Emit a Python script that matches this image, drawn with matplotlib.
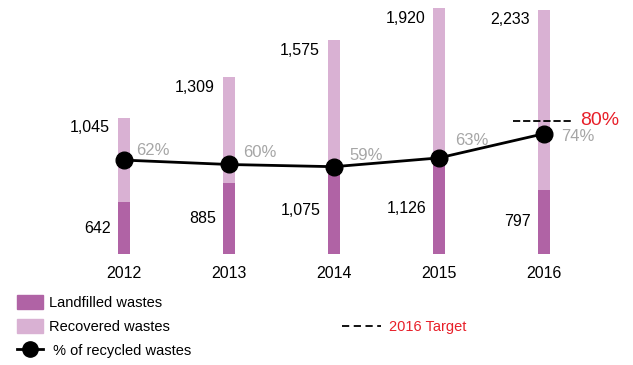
import matplotlib
matplotlib.use("Agg")
import matplotlib.pyplot as plt
from matplotlib.patches import Patch
from matplotlib.lines import Line2D

plt.rcParams['font.family'] = ['Liberation Sans', 'DejaVu Sans']

years = ["2012", "2013", "2014", "2015", "2016"]
landfilled = [642, 885, 1075, 1126, 797]
recovered = [1045, 1309, 1575, 1920, 2233]
recycled_pct = [62, 60, 59, 63, 74]
target_pct = 80

dark = "#b063a5"
light = "#d9b1d3"
red = "#e8202a"
gray = "#a6a6a6"

fig = plt.figure(figsize=(6.33, 3.65), dpi=100)
ax = fig.add_axes([0, 111/365, 1, 254/365])
ax2 = ax.twinx()

x = list(range(len(years)))
w = 0.114
ax.bar(x, landfilled, width=w, color=dark, zorder=1)
ax.bar(x, recovered, width=w, bottom=landfilled, color=light, zorder=1)

for i in x:
    top = landfilled[i] + recovered[i]
    ax.annotate(f"{recovered[i]:,}", (i - w/2, top), xytext=(-8, -10),
                textcoords='offset pixels', ha='right', va='center', fontsize=11.5)
    ax.annotate(f"{landfilled[i]:,}", (i - w/2, landfilled[i]/2), xytext=(-7, 0),
                textcoords='offset pixels', ha='right', va='center', fontsize=11.5)

ax.set_xlim(-124/105, (633-124)/105)
ax.set_ylim(0, 3150)
ax.set_xticks(x)
ax.set_xticklabels(years, fontsize=11.5)
ax.tick_params(axis='x', length=0, pad=9)
ax.set_yticks([])
for a in (ax, ax2):
    for s in a.spines.values():
        s.set_visible(False)
    a.patch.set_visible(False)

ax2.plot(x, recycled_pct, color='black', lw=2, marker='o', markersize=12, zorder=3)
ax2.set_ylim(19.3, 134.8)
ax2.set_yticks([])
pct_offsets = [(12, 10), (14, 12), (15, 11), (16, 17), (17, -3)]
for i in x:
    ax2.annotate(f"{recycled_pct[i]}%", (i, recycled_pct[i]), xytext=pct_offsets[i],
                 textcoords='offset pixels', ha='left', va='center',
                 fontsize=12, color=gray)

last = len(x) - 1
ax2.hlines(target_pct, last - 0.3, last + 0.28, colors='black', lw=1.3,
           linestyles=(0, (4, 1.6)))
ax2.text(last + 0.34, target_pct, f"{target_pct}%", color=red, fontsize=14,
         ha='left', va='center')

handles = [Patch(color=dark), Patch(color=light),
           Line2D([], [], color='black', lw=2, marker='o', markersize=11)]
labels = ["Landfilled wastes", "Recovered wastes", " % of recycled wastes"]
fig.legend(handles, labels, loc='upper left',
           bbox_to_anchor=(17/633, (365-295)/365), frameon=False,
           borderpad=0, borderaxespad=0, handlelength=1.8,
           handleheight=1.1, handletextpad=0.4, labelspacing=0.62,
           fontsize=10.5)

fig.legend([Line2D([], [], color='black', lw=1.3, linestyle=(0, (4, 2.5)))],
           ["2016 Target"], loc='upper left',
           bbox_to_anchor=(342/633, (365-320)/365), frameon=False,
           borderpad=0, borderaxespad=0, handlelength=2.7,
           handletextpad=0.5, labelcolor=red, fontsize=10.5)

fig.savefig("out.png", dpi=100)
